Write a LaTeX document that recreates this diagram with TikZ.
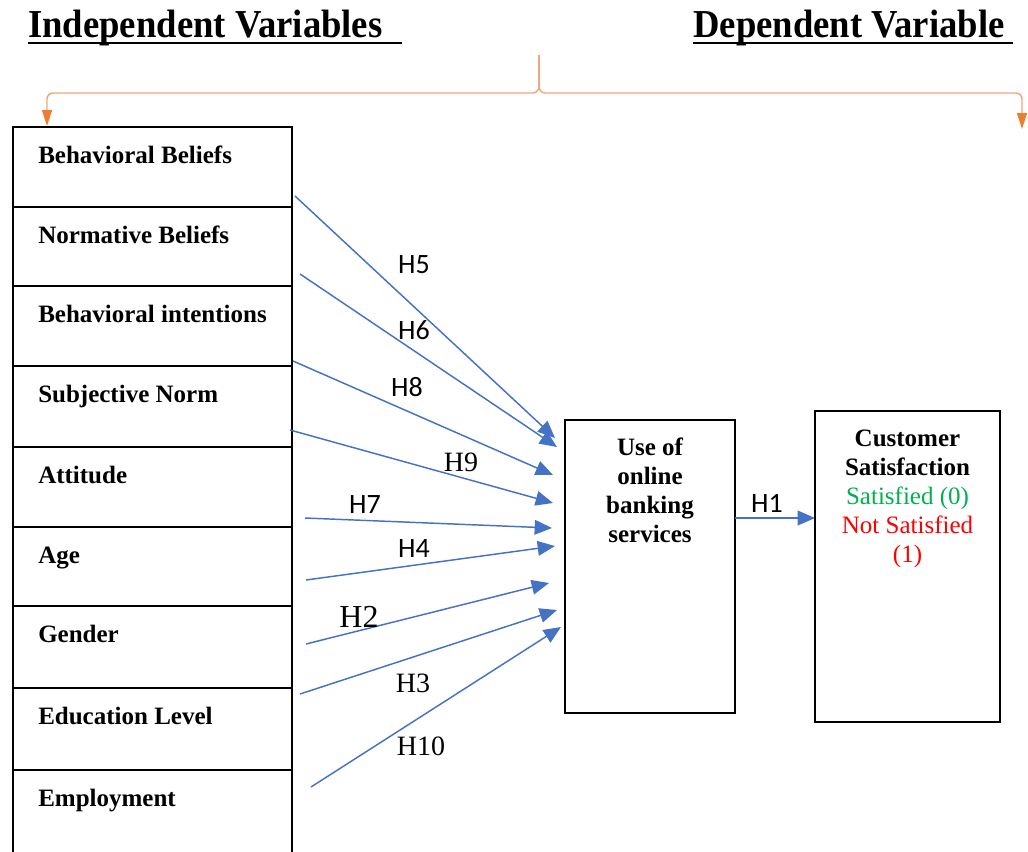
\documentclass[tikz,border=0pt]{standalone}
\usepackage{fontspec}
\setmainfont{Liberation Serif}
\newfontfamily\calib{Carlito}
\usetikzlibrary{arrows.meta}
\definecolor{hblue}{HTML}{4472C4}
\definecolor{hgreen}{HTML}{00B050}
\definecolor{hred}{HTML}{FF0000}
\definecolor{horange}{HTML}{ED7D31}
\definecolor{hpeach}{HTML}{EFA77A}
\begin{document}
\begin{tikzpicture}[x=0.75pt,y=-0.75pt,
  rowbox/.style={draw, line width=2.2pt, minimum width=209.25pt, inner sep=0pt, outer sep=0pt},
  rowtext/.style={anchor=base west, font=\bfseries\fontsize{18.75}{22}\selectfont, inner sep=0pt},
  bigbox/.style={draw, line width=2.2pt, inner sep=0pt, outer sep=0pt},
  boxtext/.style={align=center, anchor=north, inner sep=0pt, font=\fontsize{18.75}{21.75}\selectfont},
  titletext/.style={anchor=base west, inner sep=0pt, yscale=1.08, font=\bfseries\fontsize{27.5}{30}\selectfont},
  uline/.style={line width=2pt},
  hyp/.style={hblue, line width=1.1pt, -{Triangle[length=13pt,width=11pt]}},
  hsans/.style={font=\calib\fontsize{21}{24}\selectfont, inner sep=0pt},
  hserif/.style={font=\fontsize{21}{24}\selectfont, inner sep=0pt},
  brace/.style={hpeach, line width=1.1pt},
  bracearrow/.style={hpeach, line width=1.1pt, -{Triangle[length=12pt,width=7.5pt,color=horange]}}
]
\useasboundingbox (0,0) rectangle (1028,851);

% titles
\node[titletext] (tind) at (28,37) {Independent Variables};
\node[titletext] (tdep) at (693,37) {Dependent Variable};
\draw[uline] ([yshift=-4.5pt]tind.base west) -- ++(374,0);
\draw[uline] ([yshift=-4.5pt]tdep.base west) -- ++(320,0);

% brace
\coordinate (btop) at (539,55);
\coordinate (btip) at (539,86);
\coordinate (bl) at (47,126);
\coordinate (br) at (1022,129);
\draw[brace] (btop) -- (btip);
\draw[bracearrow] (btip) to[out=-90,in=0] (533,93) -- (53,93) to[out=180,in=90] (47,99) -- (bl);
\draw[bracearrow] (btip) to[out=-90,in=180] (545,93) -- (1016,93) to[out=0,in=90] (1022,99) -- (br);

% left column
\node[rowbox, minimum height=60pt]   (r1) at (152.5,167)   {};
\node[rowbox, minimum height=59.25pt](r2) at (152.5,246.5) {};
\node[rowbox, minimum height=60pt]   (r3) at (152.5,326)   {};
\node[rowbox, minimum height=60.75pt](r4) at (152.5,406.5) {};
\node[rowbox, minimum height=60pt]   (r5) at (152.5,487)   {};
\node[rowbox, minimum height=59.25pt](r6) at (152.5,566.5) {};
\node[rowbox, minimum height=61.5pt] (r7) at (152.5,647)   {};
\node[rowbox, minimum height=61.5pt] (r8) at (152.5,729)   {};
\node[rowbox, minimum height=75pt]   (r9) at (152.5,820)   {};

\node[rowtext] (l1) at ([shift={(25,36)}]r1.north west) {Behavioral Beliefs};
\node[rowtext] (l2) at ([shift={(25,36)}]r2.north west) {Normative Beliefs};
\node[rowtext] (l3) at ([shift={(25,36)}]r3.north west) {Behavioral intentions};
\node[rowtext] (l4) at ([shift={(25,36)}]r4.north west) {Subjective Norm};
\node[rowtext] (l5) at ([shift={(25,36)}]r5.north west) {Attitude};
\node[rowtext] (l6) at ([shift={(25,36)}]r6.north west) {Age};
\node[rowtext] (l7) at ([shift={(25,36)}]r7.north west) {Gender};
\node[rowtext] (l8) at ([shift={(25,36)}]r8.north west) {Education Level};
\node[rowtext] (l9) at ([shift={(25,36)}]r9.north west) {Employment};

% middle and right boxes
\node[bigbox, minimum width=127.5pt, minimum height=219.75pt] (use) at (650,566.5) {};
\node[boxtext, font=\bfseries\fontsize{18.75}{21.75}\selectfont] (uset) at (650,438) {Use of\\online\\banking\\services};

\node[bigbox, minimum width=138.75pt, minimum height=233.25pt] (cs) at (907.5,566.5) {};
\node[boxtext] (cst) at (907.5,430) {\textbf{Customer}\\\textbf{Satisfaction}\\\textcolor{hgreen}{Satisfied (0)}\\\textcolor{hred}{Not Satisfied}\\\textcolor{hred}{(1)}};

% hypothesis arrows
\coordinate (s5) at (295,196);  \coordinate (e5) at (555,438);
\coordinate (s6) at (300,274);  \coordinate (e6) at (557,447);
\coordinate (s8) at (293,361);  \coordinate (e8) at (553,475);
\coordinate (s9) at (290,430);  \coordinate (e9) at (553,503);
\coordinate (s7) at (305,518);  \coordinate (e7) at (552,528);
\coordinate (s4) at (306,580);  \coordinate (e4) at (555,546);
\coordinate (s2) at (306,644);  \coordinate (e2) at (549,583);
\coordinate (s3) at (300,694);  \coordinate (e3) at (557,610);
\coordinate (s10) at (311,787); \coordinate (e10) at (561,627);

\draw[hyp] (s5) -- (e5);
\draw[hyp] (s6) -- (e6);
\draw[hyp] (s8) -- (e8);
\draw[hyp] (s9) -- (e9);
\draw[hyp] (s7) -- (e7);
\draw[hyp] (s4) -- (e4);
\draw[hyp] (s2) -- (e2);
\draw[hyp] (s3) -- (e3);
\draw[hyp] (s10) -- (e10);
\draw[hyp] (use.east |- 0,518) -- (cs.west |- 0,518);

\node[hsans] (h5) at (414,265) {H5};
\node[hsans] (h6) at (414,330) {H6};
\node[hsans] (h8) at (407,387) {H8};
\node[hserif] (h9) at (461,462) {H9};
\node[hsans] (h7) at (365,505) {H7};
\node[hsans] (h4) at (414,548) {H4};
\node[hserif, font=\fontsize{24}{27}\selectfont] (h2) at (359,617) {H2};
\node[hserif] (h3) at (413,683) {H3};
\node[hserif] (h10) at (421,746) {H10};
\node[hsans] (h1) at (767,503) {H1};
\end{tikzpicture}
\end{document}
